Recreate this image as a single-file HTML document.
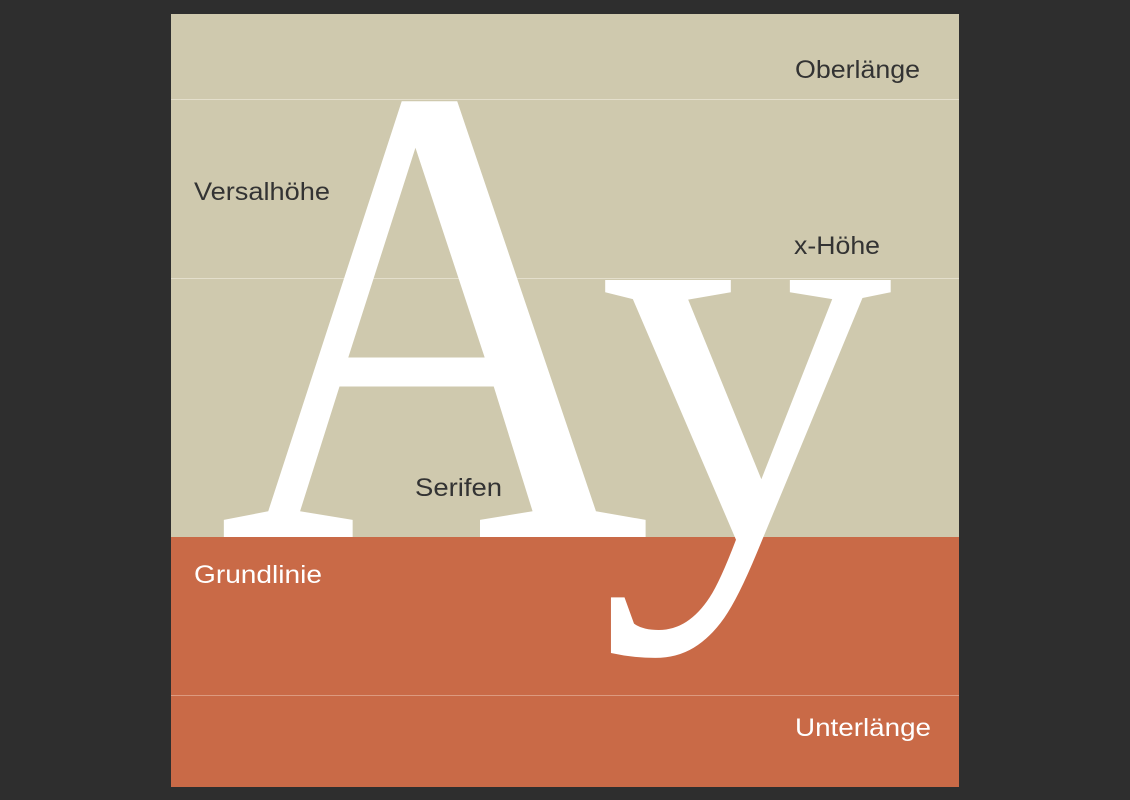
<!DOCTYPE html>
<html>
<head>
<meta charset="utf-8">
<style>
  html, body { margin: 0; padding: 0; background: #2e2e2e; }
  body { width: 1130px; height: 800px; overflow: hidden; }
  svg { display: block; }
  .lbl { font-family: "Liberation Sans", "DejaVu Sans", sans-serif; font-size: 25px; }
</style>
</head>
<body>
<svg width="1130" height="800" viewBox="0 0 1130 800">
  <rect x="0" y="0" width="1130" height="800" fill="#2e2e2e"/>
  <rect x="171" y="14" width="788" height="523" fill="#cfc9ae"/>
  <rect x="171" y="537" width="788" height="250" fill="#c96a47"/>
  <line x1="171" y1="99.5" x2="959" y2="99.5" stroke="#e4dfcc" stroke-width="1"/>
  <line x1="171" y1="278.5" x2="959" y2="278.5" stroke="#e4dfcc" stroke-width="1"/>
  <line x1="171" y1="695.5" x2="959" y2="695.5" stroke="#dc9a80" stroke-width="1"/>

  <text x="218" y="537" font-family="Liberation Serif, DejaVu Serif, serif" font-size="660" fill="#ffffff" textLength="432" lengthAdjust="spacingAndGlyphs">A</text>
  <text x="598" y="537" font-family="Liberation Serif, DejaVu Serif, serif" font-size="560" fill="#ffffff" textLength="295" lengthAdjust="spacingAndGlyphs">y</text>

  <text class="lbl" x="795" y="78" fill="#333333" textLength="125" lengthAdjust="spacingAndGlyphs">Oberlänge</text>
  <text class="lbl" x="194" y="200" fill="#333333" textLength="136" lengthAdjust="spacingAndGlyphs">Versalhöhe</text>
  <text class="lbl" x="794" y="254" fill="#333333" textLength="86" lengthAdjust="spacingAndGlyphs">x-Höhe</text>
  <text class="lbl" x="415" y="496" fill="#333333" textLength="87" lengthAdjust="spacingAndGlyphs">Serifen</text>
  <text class="lbl" x="194" y="583" fill="#ffffff" textLength="128" lengthAdjust="spacingAndGlyphs">Grundlinie</text>
  <text class="lbl" x="795" y="736" fill="#ffffff" textLength="136" lengthAdjust="spacingAndGlyphs">Unterlänge</text>
</svg>
</body>
</html>
